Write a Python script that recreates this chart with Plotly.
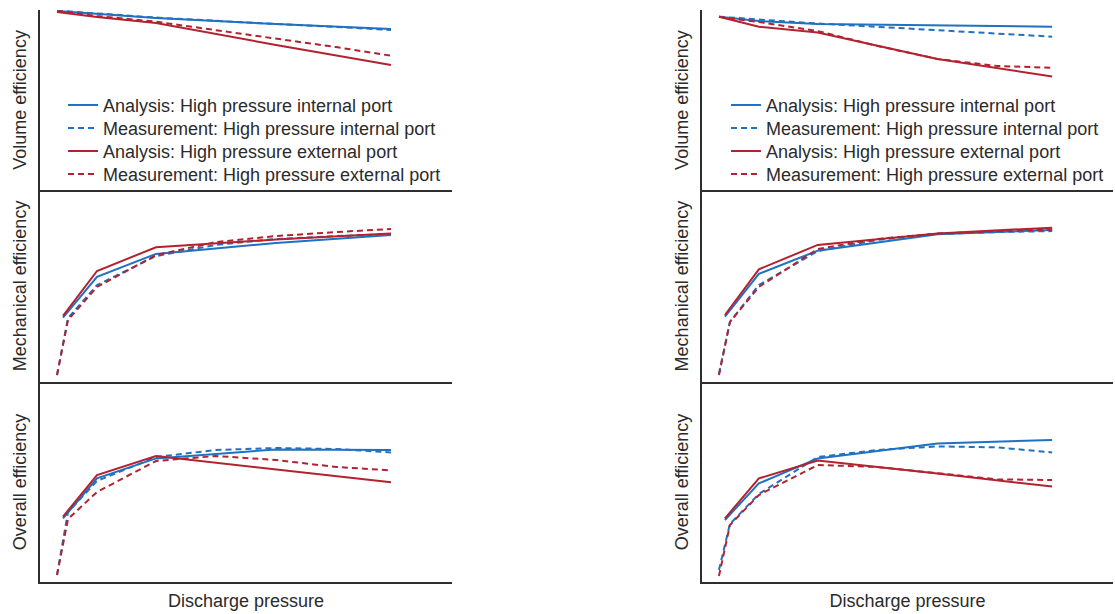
import plotly.graph_objects as go

# ---------------- data (relative units; discharge pressure in arbitrary units) ----------------
x_ana = [0.23, 0.57, 1.16, 2.36, 3.51]
x_ana_vol = [0.17, 0.57, 1.16, 2.36, 3.51]
x_meas = [0.17, 0.28, 0.57, 1.16, 1.76, 2.36, 2.96, 3.51]

# Left column
L_vol_ana_int = [99.4, 97.8, 95.6, 92.2, 89.4]
L_vol_mea_int = [99.7, 99.2, 98.1, 95.8, 93.9, 92.2, 90.6, 88.9]
L_vol_ana_ext = [98.9, 96.1, 92.8, 80.6, 69.4]
L_vol_mea_ext = [99.4, 98.6, 96.7, 93.5, 88.9, 84.2, 79.4, 74.6]

L_mec_ana_int = [33.5, 54.8, 66.7, 72.4, 76.6]
L_mec_mea_int = [3.6, 33.3, 50.5, 65.6, 71.4, 74.5, 76.0, 77.1]
L_mec_ana_ext = [34.4, 57.8, 70.2, 74.2, 77.4]
L_mec_mea_ext = [3.6, 32.3, 49.5, 66.1, 72.9, 76.0, 78.1, 79.7]

L_ovr_ana_int = [31.8, 51.8, 61.8, 66.3, 66.0]
L_ovr_mea_int = [3.5, 35.0, 50.5, 62.5, 66.0, 67.0, 66.5, 64.8]
L_ovr_ana_ext = [32.7, 53.5, 63.0, 56.3, 49.9]
L_ovr_mea_ext = [3.5, 31.5, 45.0, 60.5, 63.0, 61.0, 57.5, 55.8]

# Right column
R_vol_ana_int = [96.3, 93.9, 92.2, 91.5, 90.7]
R_vol_mea_int = [96.3, 95.8, 94.7, 92.5, 90.6, 88.9, 86.9, 85.2]
R_vol_ana_ext = [96.3, 90.7, 87.5, 72.8, 63.0]
R_vol_mea_ext = [96.3, 95.3, 93.3, 88.3, 80.0, 72.8, 68.9, 67.9]

R_mec_ana_int = [34.0, 56.3, 68.4, 76.9, 79.2]
R_mec_mea_int = [4.2, 31.3, 50.5, 68.2, 74.0, 77.1, 78.1, 78.6]
R_mec_ana_ext = [34.9, 58.7, 71.4, 77.4, 80.4]
R_mec_mea_ext = [3.6, 31.3, 49.5, 69.3, 74.5, 77.3, 78.6, 79.4]

R_ovr_ana_int = [31.0, 49.3, 61.8, 69.3, 71.0]
R_ovr_mea_int = [6.0, 29.0, 44.0, 62.5, 66.0, 67.8, 67.3, 64.8]
R_ovr_ana_ext = [31.8, 51.8, 60.7, 54.3, 47.7]
R_ovr_mea_ext = [3.0, 28.5, 43.5, 58.5, 57.5, 54.5, 51.3, 51.0]

names = ["Analysis: High pressure internal port",
         "Measurement: High pressure internal port",
         "Analysis: High pressure external port",
         "Measurement: High pressure external port"]
y_titles = ["Volume efficiency", "Mechanical efficiency", "Overall efficiency"]
x_title = "Discharge pressure"

BLUE = "#1f71c1"
RED = "#b3222f"
AXC = "#2e2e2e"
TXT = "#2b2b2b"
FONT = "Liberation Sans, Arial, sans-serif"
FS = 18
DASH = "6px,4px"

cols = {
    "L": [(x_ana_vol, L_vol_ana_int, L_vol_mea_int, L_vol_ana_ext, L_vol_mea_ext),
          (x_ana, L_mec_ana_int, L_mec_mea_int, L_mec_ana_ext, L_mec_mea_ext),
          (x_ana, L_ovr_ana_int, L_ovr_mea_int, L_ovr_ana_ext, L_ovr_mea_ext)],
    "R": [(x_ana_vol, R_vol_ana_int, R_vol_mea_int, R_vol_ana_ext, R_vol_mea_ext),
          (x_ana, R_mec_ana_int, R_mec_mea_int, R_mec_ana_ext, R_mec_mea_ext),
          (x_ana, R_ovr_ana_int, R_ovr_mea_int, R_ovr_ana_ext, R_ovr_mea_ext)],
}

W, H = 1115, 614
rows_px = [(10, 190), (190, 382), (382, 582)]
cols_px = {"L": (40, 452), "R": (702, 1113)}
legend_x_px = {"L": 63, "R": 726}
legend_row_center_px = [105, 128, 151, 174]

fig = go.Figure()
layout = dict(
    width=W, height=H,
    margin=dict(l=0, r=0, t=0, b=0),
    paper_bgcolor="white", plot_bgcolor="white",
    font=dict(family=FONT, size=FS, color=TXT),
    showlegend=True,
)

leg_common = dict(
    bgcolor="rgba(0,0,0,0)", borderwidth=0, xanchor="left", yanchor="top",
    font=dict(family=FONT, size=FS, color=TXT),
    itemclick=False, itemdoubleclick=False,
)
item_half = (FS * 1.3 + 3) / 2 + 5

ax_i = 0
leg_i = 0
for ci, c in enumerate(["L", "R"]):
    leg_names = []
    for k in range(4):
        leg_i += 1
        ln = "legend" if leg_i == 1 else f"legend{leg_i}"
        leg_names.append(ln)
        layout[ln] = dict(x=legend_x_px[c] / W,
                          y=1 - (legend_row_center_px[k] - item_half) / H,
                          **leg_common)
    for ri, (xa, a_int, m_int, a_ext, m_ext) in enumerate(cols[c]):
        ax_i += 1
        xs = "x" if ax_i == 1 else f"x{ax_i}"
        ys = "y" if ax_i == 1 else f"y{ax_i}"
        series = [
            (xa, a_int, BLUE, "solid", names[0]),
            (x_meas, m_int, BLUE, DASH, names[1]),
            (xa, a_ext, RED, "solid", names[2]),
            (x_meas, m_ext, RED, DASH, names[3]),
        ]
        for k, (xx, yy, col, dash, nm) in enumerate(series):
            fig.add_trace(go.Scatter(
                x=xx, y=yy, mode="lines", name=nm,
                line=dict(color=col, width=2, dash=dash),
                xaxis=xs, yaxis=ys,
                showlegend=(ri == 0), legend=leg_names[k],
                hoverinfo="skip",
            ))
        top, bot = rows_px[ri]
        x0, x1 = cols_px[c]
        xkey = "xaxis" if ax_i == 1 else f"xaxis{ax_i}"
        ykey = "yaxis" if ax_i == 1 else f"yaxis{ax_i}"
        layout[xkey] = dict(
            domain=[x0 / W, x1 / W], anchor=ys, range=[0, 4.12],
            showline=True, linecolor=AXC, linewidth=1.6, mirror=False,
            showticklabels=False, ticks="", showgrid=False, zeroline=False,
            automargin=False,
            title=dict(text=x_title if ri == 2 else "", standoff=12,
                       font=dict(size=FS, color=TXT)),
        )
        layout[ykey] = dict(
            domain=[1 - bot / H, 1 - top / H], anchor=xs, range=[0, 100],
            showline=True, linecolor=AXC, linewidth=1.6,
            showticklabels=False, ticks="", showgrid=False, zeroline=False,
            automargin=False,
            title=dict(text=y_titles[ri], standoff=7, font=dict(size=FS, color=TXT)),
        )

fig.update_layout(**layout)
fig.write_html("out.html")
